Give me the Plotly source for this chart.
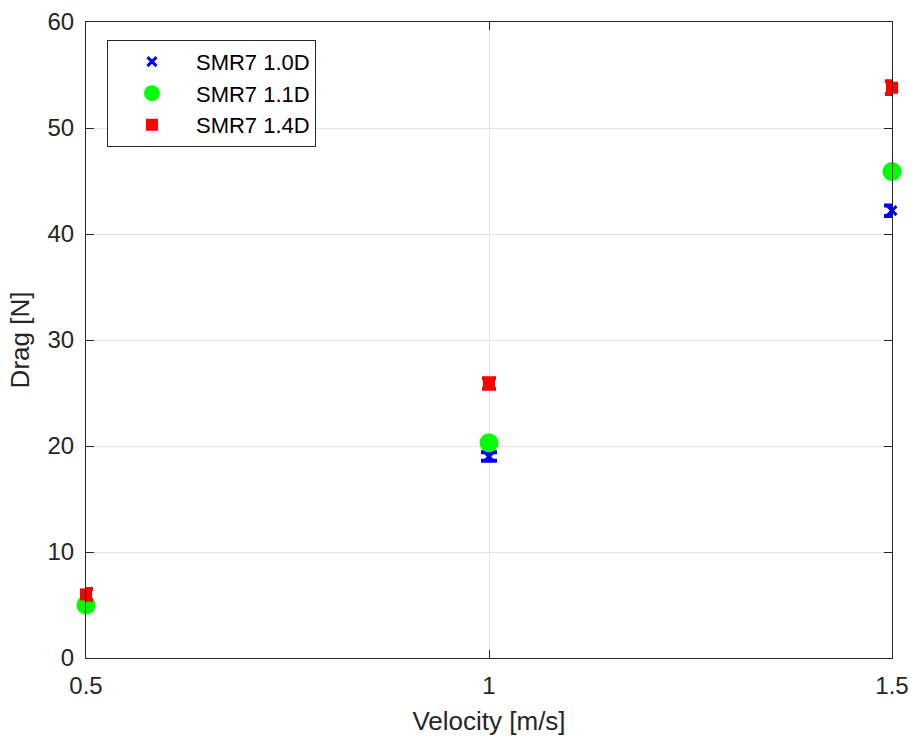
import plotly.graph_objects as go

# Drag measurements for three SMR7 configurations
velocity = [0.5, 1.0, 1.5]
drag_10d = [4.9, 19.0, 42.2]
drag_11d = [5.0, 20.3, 45.9]
drag_14d = [6.0, 25.9, 53.8]
err_10d = [0.3, 0.4, 0.5]
err_11d = [0.3, 0.4, 0.4]
err_14d = [0.5, 0.5, 0.6]

names = ["SMR7 1.0D", "SMR7 1.1D", "SMR7 1.4D"]
colors = ["#0000ff", "#00ff00", "#ff0000"]

fig = go.Figure()

series = [
    (drag_10d, err_10d, dict(symbol="x-thin", size=9, line=dict(width=3, color=colors[0])), 8),
    (drag_11d, err_11d, dict(symbol="circle", size=19), 7),
    (drag_14d, err_14d, dict(symbol="square", size=12), 7),
]

for name, color, (ys, errs, mk, capw) in zip(names, colors, series):
    fig.add_trace(go.Scatter(
        x=velocity, y=ys, name=name, mode="markers",
        marker=dict(color=color, **mk),
        error_y=dict(type="data", array=errs, color=color, thickness=4, width=capw),
        cliponaxis=False,
    ))

axis_common = dict(
    showline=True, linecolor="#262626", linewidth=1, mirror="ticks",
    ticks="inside", ticklen=8, tickcolor="#262626",
    showgrid=True, gridcolor="#e3e3e3", gridwidth=1, zeroline=False,
    tickfont=dict(size=24, color="#262626"), automargin=False,
)

fig.update_xaxes(
    range=[0.5, 1.5], tickvals=velocity, ticktext=["0.5", "1", "1.5"],
    ticklabelstandoff=6,
    title=dict(text="Velocity [m/s]", font=dict(size=26, color="#262626"), standoff=14),
    **axis_common,
)
fig.update_yaxes(
    range=[0, 60], dtick=10, ticklabelstandoff=6,
    title=dict(text="Drag [N]", font=dict(size=26, color="#262626"), standoff=10),
    **axis_common,
)

fig.update_layout(
    width=911, height=736,
    margin=dict(l=86, r=19, t=22, b=78),
    paper_bgcolor="white", plot_bgcolor="white",
    font=dict(family="Liberation Sans, Arial, sans-serif", color="#262626"),
    showlegend=True,
    legend=dict(
        x=0.026, y=0.972, xanchor="left", yanchor="top",
        bgcolor="white", bordercolor="#262626", borderwidth=1,
        font=dict(size=22, color="black"),
        itemwidth=78,
    ),
)

fig.write_html("out.html")
